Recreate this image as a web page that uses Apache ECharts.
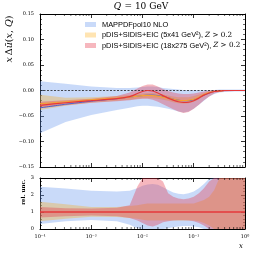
<!DOCTYPE html>
<html>
<head>
<meta charset="utf-8">
<script src="https://cdn.jsdelivr.net/npm/echarts@6/dist/echarts.min.js"></script>
<style>html,body{margin:0;padding:0;background:#fff}#c{width:254px;height:254px}</style>
</head>
<body>
<div id="c"></div>
<script>
// ---------------- data ----------------
const xs = [0.0001, 0.000316, 0.001, 0.00316, 0.00562, 0.00794, 0.01, 0.0126, 0.0158, 0.02, 0.0251, 0.0316, 0.0398, 0.0501, 0.0631, 0.0794, 0.1, 0.126, 0.158, 0.2, 0.251, 0.316, 0.398, 0.631, 1];

const mapCentral = [-0.034,-0.027,-0.021,-0.016,-0.013,-0.011,-0.010,-0.009,-0.009,-0.010,-0.012,-0.014,-0.017,-0.019,-0.020,-0.020,-0.018,-0.014,-0.009,-0.005,-0.002,-0.001,0,0,0];
const mapLower   = [-0.084,-0.062,-0.048,-0.038,-0.034,-0.031,-0.030,-0.030,-0.031,-0.032,-0.034,-0.036,-0.038,-0.041,-0.043,-0.041,-0.036,-0.028,-0.020,-0.012,-0.007,-0.004,-0.003,-0.002,-0.002];
const mapUpper   = [0.018,0.013,0.008,0.005,0.005,0.006,0.007,0.008,0.008,0.007,0.005,0.004,0.003,0.002,0.001,0.001,0.001,0.001,0.001,0.001,0.001,0.002,0.002,0.002,0.002];

const e541Central = [-0.026,-0.022,-0.018,-0.015,-0.013,-0.011,-0.010,-0.0095,-0.010,-0.011,-0.013,-0.015,-0.017,-0.019,-0.0195,-0.019,-0.017,-0.013,-0.008,-0.004,-0.002,-0.001,0,0,0];
const e541Lower   = [-0.038,-0.030,-0.024,-0.020,-0.018,-0.016,-0.015,-0.015,-0.015,-0.016,-0.018,-0.020,-0.023,-0.025,-0.026,-0.025,-0.022,-0.017,-0.011,-0.006,-0.003,-0.0015,-0.001,-0.0005,-0.0005];
const e541Upper   = [-0.0085,-0.014,-0.013,-0.011,-0.009,-0.007,-0.006,-0.005,-0.005,-0.006,-0.008,-0.010,-0.012,-0.013,-0.013,-0.013,-0.011,-0.008,-0.005,-0.002,-0.001,0,0.0005,0.0005,0.0005];

const e18Central = [-0.029,-0.024,-0.020,-0.016,-0.012,-0.006,-0.002,0,-0.001,-0.005,-0.010,-0.015,-0.019,-0.022,-0.0235,-0.023,-0.020,-0.015,-0.009,-0.005,-0.002,-0.001,0,0,0];
const e18Lower   = [-0.035,-0.029,-0.024,-0.021,-0.019,-0.017,-0.016,-0.016,-0.018,-0.022,-0.027,-0.032,-0.037,-0.041,-0.044,-0.042,-0.036,-0.028,-0.019,-0.012,-0.006,-0.003,-0.002,-0.001,-0.001];
const e18Upper   = [-0.022,-0.019,-0.016,-0.011,-0.004,0.004,0.009,0.012,0.012,0.008,0.003,-0.001,-0.004,-0.006,-0.007,-0.007,-0.006,-0.004,-0.002,0,0.001,0.001,0.001,0.001,0.001];

const mapRelLower = [0.30,0.45,0.53,0.45,0.25,0.05,-0.2,-0.3,-0.2,-0.1,0.0,0.05,0.1,0.15,0.17,0.17,0.15,0.1,0.0,-0.2,-0.5,-1,-1.5,-2,-2];
const mapRelUpper = [2.48,2.38,2.25,2.2,2.25,2.4,2.55,2.62,2.65,2.6,2.45,2.3,2.15,2.07,2.05,2.1,2.2,2.4,2.65,2.95,3.3,3.8,4.5,5,5];
const e541RelLower = [0.45,0.6,0.72,0.7,0.65,0.6,0.55,0.5,0.5,0.5,0.5,0.5,0.5,0.5,0.5,0.5,0.5,0.45,0.35,0.2,0,-0.5,-1,-2,-2];
const e541RelUpper = [1.6,1.45,1.3,1.3,1.35,1.4,1.45,1.5,1.5,1.5,1.5,1.5,1.5,1.5,1.5,1.5,1.5,1.6,1.7,1.9,2.3,3,4,5,5];
const e18RelLower = [0.68,0.75,0.8,0.75,0.65,0.5,0.35,0.2,0.15,0.25,0.4,0.45,0.5,0.52,0.52,0.5,0.45,0.35,0.2,0,-0.5,-1,-2,-3,-3];
const e18RelUpper = [1.3,1.22,1.2,1.25,1.4,2.5,4,5,5,4,2.8,2.1,1.9,1.8,1.75,1.8,1.9,2.1,2.4,2.8,3.5,5,6,7,7];
const e18RelCentral = [1,1,1,1,1,1,1,1,1,1,1,1,1,1,1,1,1,1,1,1,1,1,1,1,1];

const xTickLabels = ['10⁻⁴','10⁻³','10⁻²','10⁻¹','10⁰'];
const legendNames = ['MAPPDFpol10 NLO', 'pDIS+SIDIS+EIC (5x41 GeV²)', 'pDIS+SIDIS+EIC (18x275 GeV²)'];

// ---------------- style ----------------
const C_BLUE_BAND = 'rgba(100,149,237,0.35)';
const C_ORANGE_BAND = 'rgba(255,165,0,0.30)';
const C_RED_BAND = 'rgba(228,50,70,0.35)';
const C_BLUE = '#3b5bd6';
const C_ORANGE = '#f6a230';
const C_RED = '#e5383b';
const SERIF = 'DejaVu Serif';
const SANS = 'Liberation Sans';

function band(gi, lower, upper, color) {
  return { type:'custom', xAxisIndex: gi*2, yAxisIndex: gi*2, data:[0], silent:true, z:1,
    renderItem: function (params, api) {
      const cs = params.coordSys;
      const yTop = cs.y, yBot = cs.y + cs.height;
      const clampY = p => [p[0], Math.min(yBot, Math.max(yTop, p[1]))];
      const up = xs.map((x,i) => clampY(api.coord([x, upper[i]])));
      const lo = xs.map((x,i) => clampY(api.coord([x, lower[i]]))).reverse();
      return { type:'polygon', shape:{ points: up.concat(lo) }, style:{ fill: color } };
    } };
}
function line(gi, vals, color, w, z) {
  return { type:'line', xAxisIndex: gi*2, yAxisIndex: gi*2, data: xs.map((x,i)=>[x, vals[i]]),
    symbol:'none', smooth:0.2, lineStyle:{color: color, width: w}, silent:true, z: z };
}

function xAx(gi, pos, labels) {
  return { type:'log', logBase:10, gridIndex: gi, position: pos, min:0.0001, max:1,
    axisLine:{show:true, onZero:false, lineStyle:{color:'#000', width:1}},
    axisTick:{show:true, inside:true, length:4, lineStyle:{color:'#000', width:0.8}},
    splitLine:{show:false}, minorSplitLine:{show:false},
    axisLabel:{show: labels, color:'#000', fontFamily: SERIF, fontSize:5, margin:5.5,
      formatter: v => xTickLabels[Math.round(Math.log10(v)) + 4] }
  };
}
function yAx(gi, pos, min, max, interval, labels, fmt) {
  return { type:'value', gridIndex: gi, position: pos, min:min, max:max, interval: interval,
    axisLine:{show:true, onZero:false, lineStyle:{color:'#000', width:1}},
    axisTick:{show:true, inside:true, length:4, lineStyle:{color:'#000', width:0.8}},
    minorTick:{show:true, splitNumber:5, length:2, lineStyle:{color:'#000', width:0.6}},
    splitLine:{show:false}, minorSplitLine:{show:false},
    axisLabel:{show: labels, color:'#000', fontFamily: SERIF, fontSize:5, margin:6, formatter: fmt }
  };
}
const fmtTop = v => (v < 0 ? '\u2212' : '') + Math.abs(v).toFixed(2);
const fmtBot = v => String(Math.round(v));

const series = [
  band(0, mapLower, mapUpper, C_BLUE_BAND),
  band(0, e541Lower, e541Upper, C_ORANGE_BAND),
  band(0, e18Lower, e18Upper, C_RED_BAND),
  band(1, mapRelLower, mapRelUpper, C_BLUE_BAND),
  band(1, e541RelLower, e541RelUpper, C_ORANGE_BAND),
  band(1, e18RelLower, e18RelUpper, C_RED_BAND),
  line(0, mapCentral, C_BLUE, 0.9, 3),
  line(0, e541Central, C_ORANGE, 1.1, 4),
  Object.assign(line(0, e18Central, C_RED, 1.2, 5), {
    markLine:{ silent:true, symbol:'none', label:{show:false},
      lineStyle:{color:'#222', type:[2,1.5], width:0.8}, data:[{yAxis:0}] } }),
  line(1, e18RelCentral, C_RED, 1.6, 5)
];

const option = {
  animation:false,
  backgroundColor:'#fff',
  grid:[ {left:40, top:14, width:205, height:153}, {left:40, top:178, width:205, height:51} ],
  xAxis:[ xAx(0,'bottom',false), xAx(0,'top',false), xAx(1,'bottom',true), xAx(1,'top',false) ],
  yAxis:[ yAx(0,'left',-0.15,0.15,0.05,true,fmtTop), yAx(0,'right',-0.15,0.15,0.05,false,fmtTop),
          yAx(1,'left',0,3,1,true,fmtBot), yAx(1,'right',0,3,1,false,fmtBot) ],
  series: series
};
const chart = echarts.init(document.getElementById('c'), null, {renderer:'canvas'});
chart.setOption(option);

// ---------------- minor log ticks, texts, legend ----------------
const g = [];
function addMinorLogTicks(xAxisIndex, yTopPx, yBotPx) {
  for (let d = -4; d < 0; d++) {
    for (let k = 2; k <= 9; k++) {
      const v = k * Math.pow(10, d);
      const px = chart.convertToPixel({xAxisIndex: xAxisIndex}, v);
      g.push({ type:'line', silent:true, z:100, shape:{x1:px, y1:yBotPx, x2:px, y2:yBotPx-2}, style:{stroke:'#000', lineWidth:0.6} });
      g.push({ type:'line', silent:true, z:100, shape:{x1:px, y1:yTopPx, x2:px, y2:yTopPx+2}, style:{stroke:'#000', lineWidth:0.6} });
    }
  }
}
const t0 = chart.convertToPixel({yAxisIndex:0}, 0.15), b0 = chart.convertToPixel({yAxisIndex:0}, -0.15);
const t1 = chart.convertToPixel({yAxisIndex:2}, 3), b1 = chart.convertToPixel({yAxisIndex:2}, 0);
addMinorLogTicks(0, t0, b0);
addMinorLogTicks(2, t1, b1);

// title
g.push({ type:'text', silent:true, x:141, y:7, style:{
  text:'{i|Q} {n|= 10 GeV}', align:'center', verticalAlign:'middle',
  rich:{ i:{fontFamily:SERIF, fontStyle:'italic', fontSize:9, fill:'#000'}, n:{fontFamily:SERIF, fontSize:9, fill:'#000'} } } });
// y label (top)
g.push({ type:'text', silent:true, x:10, y:39, rotation:Math.PI/2, style:{
  text:'{i|x}{n|\u2009Δ}{i|ū}{n|(}{i|x}{n|, }{i|Q}{n|)}', align:'center', verticalAlign:'middle',
  rich:{ i:{fontFamily:SERIF, fontStyle:'italic', fontSize:9.5, fill:'#000'}, n:{fontFamily:SERIF, fontSize:9.5, fill:'#000'} } } });
// y label (bottom)
g.push({ type:'text', silent:true, x:24, y:192, rotation:Math.PI/2, style:{
  text:'rel. unc.', align:'center', verticalAlign:'middle', fontFamily:SERIF, fontWeight:'bold', fontSize:5.5, fill:'#000' } });
// x label
g.push({ type:'text', silent:true, x:241, y:246, style:{
  text:'x', align:'center', verticalAlign:'middle', fontFamily:SERIF, fontStyle:'italic', fontSize:7, fill:'#000' } });

// legend
const legColors = [C_BLUE_BAND, C_ORANGE_BAND, C_RED_BAND];
const legY = [24.5, 35, 45.5];
for (let i = 0; i < 3; i++) {
  g.push({ type:'rect', silent:true, shape:{x:85, y:legY[i]-2.5, width:11, height:5}, style:{fill: legColors[i]} });
  const txt = i === 0 ? '{a|' + legendNames[0] + '}' : '{a|' + legendNames[i] + ', }{m|Z}{n| > 0.2}';
  g.push({ type:'text', silent:true, x:102, y:legY[i], style:{
    text: txt, align:'left', verticalAlign:'middle',
    rich:{ a:{fontFamily:SANS, fontSize:7.4, fill:'#000'},
           m:{fontFamily:SERIF, fontStyle:'italic', fontSize:7.2, fill:'#000'},
           n:{fontFamily:SERIF, fontSize:7.2, fill:'#000'} } } });
}
chart.setOption({ graphic: g });
</script>
</body>
</html>
